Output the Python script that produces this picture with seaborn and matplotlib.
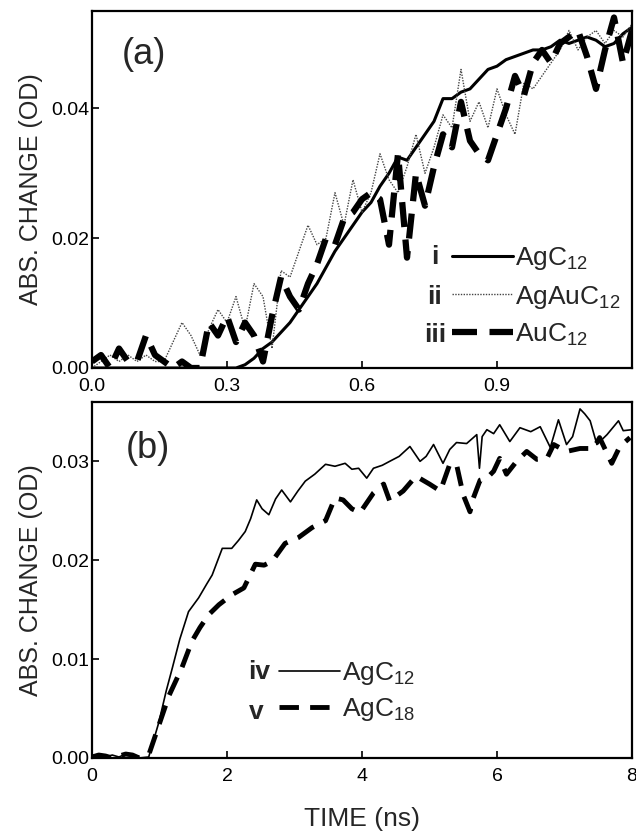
import numpy as np
import pandas as pd
import matplotlib
matplotlib.use("Agg")
import matplotlib.pyplot as plt
import seaborn as sns
from matplotlib.lines import Line2D

# ---------------- data: panel (a) ----------------
t_a = [round(0.02 * k, 2) for k in range(61)]
ag_c12_a = [0.0, 0.0, 0.0, 0.0, 0.0, 0.0, 0.0, 0.0, 0.0, 0.0,
            0.0, 0.0, 0.0, 0.0, 0.0, 0.0, 0.0, 0.0005, 0.0015, 0.003,
            0.004, 0.0055, 0.007, 0.009, 0.011, 0.013, 0.0155, 0.018, 0.020, 0.022,
            0.024, 0.0255, 0.028, 0.030, 0.0325, 0.032, 0.034, 0.036, 0.038, 0.0415,
            0.0415, 0.0425, 0.043, 0.0445, 0.046, 0.0465, 0.0475, 0.048, 0.0485, 0.049,
            0.049, 0.0495, 0.0505, 0.050, 0.0505, 0.051, 0.0505, 0.0495, 0.050, 0.0515,
            0.0525]
agau_c12_a = [0.000, 0.001, 0.002, 0.001, 0.002, 0.001, 0.002, 0.001, 0.001, 0.004,
              0.007, 0.005, 0.002, 0.006, 0.009, 0.007, 0.011, 0.006, 0.013, 0.011,
              0.003, 0.015, 0.014, 0.018, 0.022, 0.019, 0.020, 0.027, 0.022, 0.029,
              0.024, 0.027, 0.033, 0.029, 0.027, 0.031, 0.036, 0.030, 0.034, 0.039,
              0.037, 0.046, 0.038, 0.041, 0.037, 0.043, 0.039, 0.036, 0.044, 0.043,
              0.045, 0.047, 0.049, 0.052, 0.049, 0.051, 0.052, 0.050, 0.052, 0.051,
              0.053]
au_c12_a = [0.001, 0.002, 0.000, 0.003, 0.001, 0.001, 0.005, 0.002, 0.001, 0.000,
            0.001, 0.000, 0.000, 0.007, 0.005, 0.008, 0.004, 0.007, 0.005, 0.001,
            0.008, 0.014, 0.011, 0.009, 0.013, 0.016, 0.020, 0.019, 0.023, 0.024,
            0.026, 0.027, 0.026, 0.019, 0.033, 0.017, 0.030, 0.025, 0.031, 0.036,
            0.034, 0.041, 0.035, 0.033, 0.032, 0.036, 0.040, 0.045, 0.042, 0.047,
            0.049, 0.047, 0.050, 0.051, 0.052, 0.048, 0.043, 0.049, 0.054, 0.047,
            0.052]

# ---------------- data: panel (b) ----------------
t_b_c12 = [0.0, 0.1, 0.2, 0.3, 0.4, 0.5, 0.6, 0.7, 0.84, 0.99, 1.1, 1.19, 1.3, 1.43,
           1.58, 1.7, 1.78, 1.93, 2.07, 2.17, 2.27, 2.35, 2.44, 2.52, 2.62, 2.72, 2.81,
           2.94, 3.05, 3.16, 3.3, 3.46, 3.6, 3.75, 3.85, 3.95, 4.07, 4.17, 4.3, 4.41,
           4.55, 4.71, 4.86, 4.95, 5.06, 5.2, 5.3, 5.4, 5.55, 5.7, 5.74, 5.78, 5.85,
           5.95, 6.04, 6.19, 6.34, 6.5, 6.64, 6.79, 6.91, 7.03, 7.12, 7.23, 7.3, 7.38,
           7.48, 7.63, 7.8, 7.87, 8.0]
ag_c12_b = [0.0002, 0.0004, 0.0001, 0.0003, 0.0001, 0.0004, 0.0003, 0.0000, 0.0001,
            0.0036, 0.0068, 0.0091, 0.0120, 0.0148, 0.0162, 0.0176, 0.0185, 0.0212,
            0.0212, 0.0220, 0.0229, 0.0242, 0.0261, 0.0252, 0.0246, 0.0262, 0.0271,
            0.0259, 0.0270, 0.0280, 0.0287, 0.0297, 0.0295, 0.0298, 0.0292, 0.0293,
            0.0283, 0.0293, 0.0296, 0.0300, 0.0305, 0.0315, 0.0300, 0.0305, 0.0317,
            0.0298, 0.0312, 0.0319, 0.0318, 0.0327, 0.0293, 0.0325, 0.0332, 0.0328,
            0.0337, 0.0320, 0.0334, 0.0330, 0.0335, 0.0314, 0.0342, 0.0317, 0.0325,
            0.0353, 0.0348, 0.0341, 0.0317, 0.0327, 0.0341, 0.0331, 0.0332]
t_b_c18 = [0.0, 0.1, 0.2, 0.3, 0.4, 0.5, 0.6, 0.7, 0.84, 1.0, 1.14, 1.33, 1.48, 1.6,
           1.73, 1.88, 2.07, 2.25, 2.42, 2.55, 2.67, 2.86, 3.06, 3.26, 3.46, 3.6, 3.72,
           3.85, 3.97, 4.17, 4.32, 4.41, 4.61, 4.8, 5.0, 5.16, 5.3, 5.4, 5.5, 5.6, 5.65,
           5.75, 5.85, 5.95, 6.04, 6.14, 6.29, 6.44, 6.59, 6.74, 6.84, 7.03, 7.23, 7.43,
           7.52, 7.7, 7.82, 7.97]
ag_c18_b = [0.0001, 0.0003, 0.0002, 0.0000, 0.0002, 0.0004, 0.0003, 0.0000, 0.0003,
            0.0035, 0.0063, 0.0091, 0.0118, 0.0132, 0.0145, 0.0155, 0.0165, 0.0172,
            0.0196, 0.0195, 0.0199, 0.0217, 0.0223, 0.0233, 0.0240, 0.0263, 0.0261,
            0.0252, 0.0248, 0.0268, 0.0277, 0.0260, 0.0270, 0.0285, 0.0277, 0.0270,
            0.0297, 0.0297, 0.0266, 0.0249, 0.0263, 0.0281, 0.0283, 0.0290, 0.0303,
            0.0287, 0.0300, 0.0310, 0.0302, 0.0303, 0.0317, 0.0310, 0.0313, 0.0313,
            0.0324, 0.0298, 0.0315, 0.0324]

labels_a = ["AgC$_{12}$", "AgAuC$_{12}$", "AuC$_{12}$"]
numerals_a = ["i", "ii", "iii"]
labels_b = ["AgC$_{12}$", "AgC$_{18}$"]
numerals_b = ["iv", "v"]
xticks_a = [0.0, 0.3, 0.6, 0.9]
yticks_a = [0.00, 0.02, 0.04]
xticks_b = [0, 2, 4, 6, 8]
yticks_b = [0.00, 0.01, 0.02, 0.03]

# ---------------- style ----------------
sns.set_theme(style="ticks")
plt.rcParams["font.family"] = ["Liberation Sans", "DejaVu Sans"]
plt.rcParams["mathtext.fontset"] = "custom"
plt.rcParams["mathtext.rm"] = "Liberation Sans"
plt.rcParams["mathtext.default"] = "regular"

fig = plt.figure(figsize=(6.36, 8.32), dpi=100)
ax_a = fig.add_axes([92 / 636, 1 - 368 / 832, 540 / 636, 357 / 832])
ax_b = fig.add_axes([92 / 636, 1 - 758 / 832, 540 / 636, 356 / 832])

def draw(ax, x, y, lw, color="black", ls="-", dashes=None):
    sns.lineplot(x=x, y=y, ax=ax, color=color, linewidth=lw, sort=False,
                 estimator=None, linestyle=ls)
    line = ax.lines[-1]
    if dashes is not None:
        line.set_dashes(dashes)
    return line

LEG_FS = 19

# panel (a)
draw(ax_a, t_a, ag_c12_a, 2.2)
draw(ax_a, t_a, agau_c12_a, 1.0, color="#444444", ls=(0, (1, 1)))
draw(ax_a, t_a, au_c12_a, 4.5, dashes=(4, 2))
ax_a.set_xlim(0, 1.2)
ax_a.set_ylim(0, 0.055)
ax_a.set_xticks(xticks_a)
ax_a.set_xticklabels([f"{v:.1f}" for v in xticks_a])
ax_a.set_yticks(yticks_a)
ax_a.set_yticklabels([f"{v:.2f}" for v in yticks_a])

h_a = [Line2D([], [], color="black", lw=2.2),
       Line2D([], [], color="#444444", lw=1.0, ls=(0, (1, 1))),
       Line2D([], [], color="black", lw=4.5, dashes=(4, 2))]
ax_a.legend(h_a, labels_a, loc="center left", bbox_to_anchor=(0.667, 0.20),
            frameon=False, fontsize=LEG_FS, handlelength=2.3, handletextpad=0.08,
            labelspacing=0.42, borderpad=0, borderaxespad=0)
for name, yy in zip(numerals_a, [0.311, 0.199, 0.092]):
    ax_a.text(0.635, yy, name, transform=ax_a.transAxes, ha="center", va="center",
              fontsize=LEG_FS, fontweight="bold")
ax_a.text(0.096, 0.877, "(a)", transform=ax_a.transAxes, ha="center", va="center",
          fontsize=26)

# panel (b)
draw(ax_b, t_b_c12, ag_c12_b, 1.2)
draw(ax_b, t_b_c18, ag_c18_b, 3.5, dashes=(4, 2.3))
ax_b.set_xlim(0, 8)
ax_b.set_ylim(0, 0.036)
ax_b.set_xticks(xticks_b)
ax_b.set_xticklabels([str(v) for v in xticks_b])
ax_b.set_yticks(yticks_b)
ax_b.set_yticklabels([f"{v:.2f}" for v in yticks_b])
h_b = [Line2D([], [], color="black", lw=1.2),
       Line2D([], [], color="black", lw=3.5, dashes=(4, 2.3))]
ax_b.legend(h_b, labels_b, loc="center left", bbox_to_anchor=(0.346, 0.186),
            frameon=False, fontsize=LEG_FS, handlelength=2.3, handletextpad=0.08,
            labelspacing=0.35, borderpad=0, borderaxespad=0)
for name, yy in zip(numerals_b, [0.242, 0.13]):
    ax_b.text(0.29, yy, name, transform=ax_b.transAxes, ha="left", va="center",
              fontsize=LEG_FS, fontweight="bold")
ax_b.text(0.104, 0.868, "(b)", transform=ax_b.transAxes, ha="center", va="center",
          fontsize=26)
ax_b.set_xlabel("TIME (ns)", fontsize=19, labelpad=16)

for ax in (ax_a, ax_b):
    ax.set_ylabel("ABS. CHANGE (OD)", fontsize=18, labelpad=6)
    ax.tick_params(direction="in", length=5, width=1.2, labelsize=14, colors="black")
    ax.tick_params(axis="y", pad=2)
    ax.tick_params(axis="x", pad=7)
    for s in ax.spines.values():
        s.set_visible(True)
        s.set_linewidth(1.6)
        s.set_color("black")
    ax.set_facecolor("white")

fig.savefig("out.png", dpi=100, facecolor="white")
